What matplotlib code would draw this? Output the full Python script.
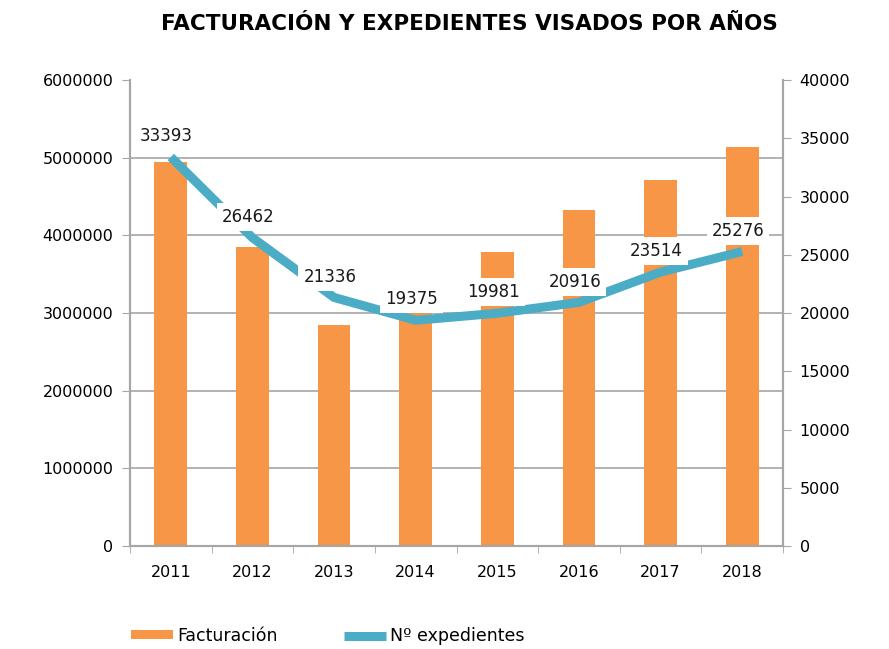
import numpy as np
import matplotlib.pyplot as plt
from matplotlib.ticker import FuncFormatter

# data
years = ["2011", "2012", "2013", "2014", "2015", "2016", "2017", "2018"]
facturacion = [4950000, 3855000, 2845000, 3065000, 3780000, 4325000, 4712000, 5140000]
expedientes = [33393, 26462, 21336, 19375, 19981, 20916, 23514, 25276]

orange = "#F79646"
teal = "#4BACC6"
grey = "#A6A6A6"

fig = plt.figure(figsize=(8.89, 6.49), dpi=100)
ax = fig.add_axes([0.1462, 0.1587, 0.7346, 0.718])
ax2 = ax.twinx()

x = np.arange(len(years))
ax.bar(x, facturacion, width=0.4, color=orange, zorder=2, label="Facturación")
ax.set_ylim(0, 6000000)
ax.set_xlim(-0.5, len(years) - 0.5)
ax.set_yticks(np.arange(0, 6000001, 1000000))
ax.yaxis.set_major_formatter(FuncFormatter(lambda v, p: "%d" % v))
for v in range(1000000, 6000000, 1000000):
    ax.axhline(v, color=grey, lw=1.2, zorder=1)

ln, = ax2.plot(x, expedientes, color=teal, lw=6.5, solid_capstyle="butt",
               zorder=3, label="Nº expedientes")
ax2.set_ylim(0, 40000)
ax2.set_yticks(np.arange(0, 40001, 5000))

for xi, v in zip(x, expedientes):
    ax2.annotate(str(v), (xi, v), xytext=(-3, 15), textcoords="offset points",
                 ha="center", va="center", fontsize=12, color="#1a1a1a",
                 bbox=dict(boxstyle="square,pad=0.3", fc="white", ec="none"),
                 zorder=5)

ax.set_xticks(x)
ax.set_xticklabels(years)
ax.set_xticks(np.arange(-0.5, len(years), 1), minor=True)
ax.tick_params(axis="x", which="major", length=0, pad=14, labelsize=11.5)
ax.tick_params(axis="x", which="minor", length=5, direction="out", color=grey)
ax.tick_params(axis="y", length=6, direction="out", color=grey, labelsize=11.5, pad=6)
ax2.tick_params(axis="y", length=6, direction="out", color=grey, labelsize=11.5, pad=6)

for a in (ax, ax2):
    a.spines["top"].set_visible(False)
    for s in ("left", "right", "bottom"):
        a.spines[s].set_color(grey)
        a.spines[s].set_linewidth(1.5)
ax.set_zorder(ax2.get_zorder() - 1)
ax.patch.set_visible(True)
ax2.patch.set_visible(False)

fig.text(0.528, 0.963, "FACTURACIÓN Y EXPEDIENTES VISADOS POR AÑOS",
         ha="center", va="center", fontsize=15.5, fontweight="bold")

bars_h = ax.containers[0]
fig.legend([bars_h, ln], ["Facturación", "Nº expedientes"],
           loc="center left", bbox_to_anchor=(0.138, 1 - 636 / 649), ncol=2,
           frameon=False, fontsize=12.5, handlelength=2.4, handletextpad=0.25,
           columnspacing=3.8, handleheight=0.45, borderpad=0)

fig.savefig("out.png", dpi=100)
